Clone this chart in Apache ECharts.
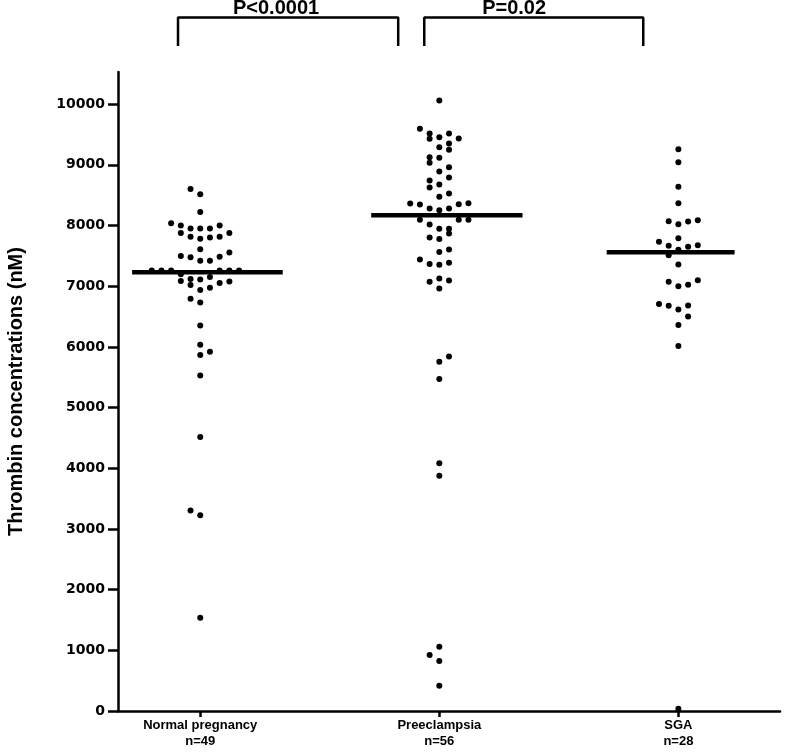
<!DOCTYPE html>
<html>
<head>
<meta charset="utf-8">
<script src="https://cdn.jsdelivr.net/npm/echarts@6/dist/echarts.min.js"></script>
<style>html,body{margin:0;padding:0;background:#fff;}#chart{width:800px;height:753px;}</style>
</head>
<body>
<div id="chart"></div>
<script>
// ---- data ----
const categories = ['Normal pregnancy', 'Preeclampsia', 'SGA'];
const groupSizes = ['n=49', 'n=56', 'n=28'];
const yTicks = [0, 1000, 2000, 3000, 4000, 5000, 6000, 7000, 8000, 9000, 10000];
const medians = [7230, 8170, 7560];

const normalValues = [8600, 8517, 8221, 8039, 8001, 7952, 7952, 7952, 8001, 7875, 7875, 7814, 7781, 7804, 7814,
  7611, 7557, 7496, 7479, 7418, 7418, 7484, 7257, 7257, 7257, 7257, 7257, 7257, 7199, 7084, 7117, 7112, 7150,
  7051, 7079, 7018, 6936, 6974, 6792, 6733, 6354, 6035, 5919, 5865, 5530, 4514, 3306, 3224, 1537];
const normalColumns = [-1, 0, 0, -3, -2, -1, 0, 1, 2, -2, 3, -1, 0, 1, 2, 0, 3, -2, -1, 0, 1, 2, -5, -4, -3, 2, 3, 4,
  -2, -2, -1, 0, 1, 2, 3, -1, 0, 1, -1, 0, 0, 0, 1, 0, 0, 0, -1, 0, 0];

const preeclampsiaValues = [10061, 9593, 9517, 9428, 9456, 9517, 9435, 9352, 9291, 9247, 9127, 9115, 9033, 8891, 8962,
  8792, 8743, 8627, 8677, 8473, 8528, 8364, 8347, 8282, 8253, 8282, 8352, 8369, 8094, 8094, 8094, 8018, 7945, 7945,
  7870, 7804, 7776, 7562, 7606, 7441, 7364, 7352, 7385, 7072, 7128, 7095, 6964, 5754, 5843, 5469, 4081, 3876, 1059,
  923, 824, 417];
const preeclampsiaColumns = [0, -2, -1, -1, 0, 1, 2, 1, 0, 1, -1, 0, -1, 0, 1, 1, -1, -1, 0, 0, 1, -3, -2, -1, 0, 1, 2, 3,
  -2, 2, 3, -1, 0, 1, 1, -1, 0, 0, 1, -2, -1, 0, 1, -1, 0, 1, 0, 0, 1, 0, 0, 0, 0, -1, 0, 0];

const sgaValues = [9258, 9044, 8637, 8369, 8072, 8023, 8067, 8089, 7731, 7665, 7792, 7649, 7677, 7600, 7512, 7359,
  7072, 7001, 7023, 7100, 6705, 6677, 6618, 6683, 6502, 6359, 6013, 38];
const sgaColumns = [0, 0, 0, 0, -1, 0, 1, 2, -2, -1, 0, 1, 2, 0, -1, 0, -1, 0, 1, 2, -2, -1, 0, 1, 1, 0, 0, 0];

const comparisons = [
  { from: 0.907, to: 1.828, textAt: 1.317, text: 'P<0.0001' },
  { from: 1.937, to: 2.853, textAt: 2.313, text: 'P=0.02' }
];

// ---- layout / style ----
const COL_STEP = 0.0406;
const medianSpans = [[-0.285, 0.345], [-0.285, 0.348], [-0.30, 0.235]];
const BRACKET_TOP = 11430, BRACKET_LEG = 10960, P_TEXT_Y = 11570;
const FONT = 'Liberation Sans, Arial, Helvetica, sans-serif';
const WIDE_FONT = 'DejaVu Sans, sans-serif';

const groups = [
  [normalValues, normalColumns],
  [preeclampsiaValues, preeclampsiaColumns],
  [sgaValues, sgaColumns]
];

const series = [];
groups.forEach(([vals, cols], gi) => {
  const g = gi + 1;
  series.push({
    type: 'scatter',
    symbol: 'circle',
    symbolSize: 6,
    clip: false,
    itemStyle: { color: '#000', opacity: 1 },
    data: vals.map((v, i) => [g + cols[i] * COL_STEP, v]),
    z: 3
  });
  series.push({
    type: 'line',
    symbol: 'none',
    lineStyle: { color: '#000', width: 4.5 },
    data: [[g + medianSpans[gi][0], medians[gi]], [g + medianSpans[gi][1], medians[gi]]],
    z: 4
  });
});
comparisons.forEach(c => {
  series.push({
    type: 'line',
    symbol: 'none',
    clip: false,
    lineStyle: { color: '#000', width: 2.5 },
    data: [[c.from, BRACKET_LEG], [c.from, BRACKET_TOP], [c.to, BRACKET_TOP], [c.to, BRACKET_LEG]]
  });
  series.push({
    type: 'scatter',
    clip: false,
    symbolSize: 1,
    itemStyle: { color: 'rgba(0,0,0,0)', opacity: 1 },
    label: {
      show: true, position: 'inside', formatter: c.text, opacity: 1,
      color: '#000', fontFamily: FONT, fontWeight: 'bold', fontSize: 20
    },
    data: [[c.textAt, P_TEXT_Y]],
    z: 5
  });
});

const chart = echarts.init(document.getElementById('chart'));
chart.setOption({
  backgroundColor: '#fff',
  animation: false,
  grid: { left: 118, right: 20, top: 72, bottom: 42, containLabel: false, outerBoundsMode: 'none' },
  xAxis: {
    type: 'value',
    min: 0.656,
    max: 3.425,
    splitLine: { show: false },
    axisLine: { lineStyle: { color: '#000', width: 2.5 } },
    axisTick: { customValues: [1, 2, 3], length: 6, lineStyle: { color: '#000', width: 2.5 } },
    axisLabel: {
      customValues: [1, 2, 3],
      formatter: v => categories[Math.round(v) - 1] + '\n' + groupSizes[Math.round(v) - 1],
      color: '#000', fontFamily: FONT, fontWeight: 'bold', fontSize: 13, lineHeight: 16, margin: 6
    }
  },
  yAxis: {
    type: 'value',
    min: 0,
    max: 10530,
    name: 'Thrombin concentrations (nM)',
    nameLocation: 'middle',
    nameGap: 92,
    nameTextStyle: { color: '#000', fontFamily: FONT, fontWeight: 'bold', fontSize: 20 },
    splitLine: { show: false },
    axisLine: { show: true, lineStyle: { color: '#000', width: 2.5 } },
    axisTick: { show: true, customValues: yTicks, length: 10, lineStyle: { color: '#000', width: 2.5 } },
    axisLabel: {
      customValues: yTicks,
      formatter: v => String(v),
      color: '#000', fontFamily: WIDE_FONT, fontWeight: 'bold', fontSize: 14, margin: 13
    }
  },
  series: series
});
</script>
</body>
</html>
